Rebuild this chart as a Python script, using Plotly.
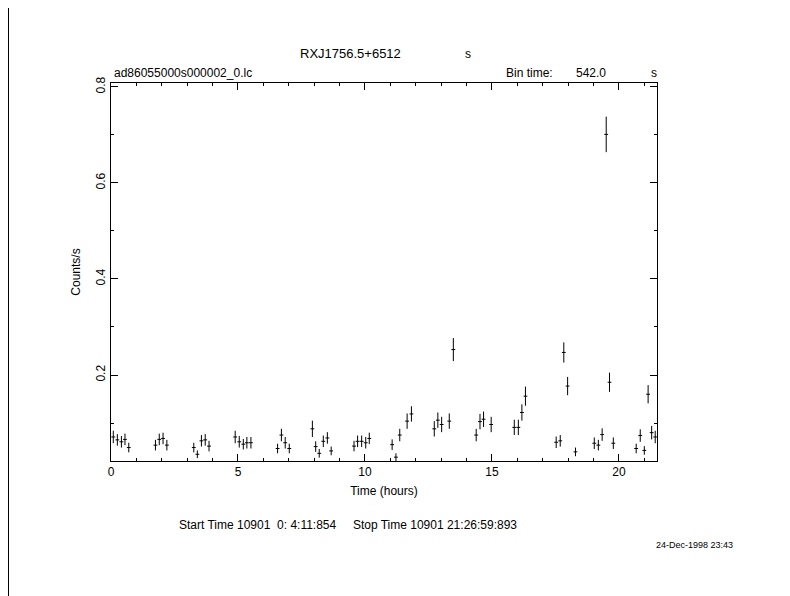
import plotly.graph_objects as go

time_hours = [0.09, 0.25, 0.41, 0.55, 0.70, 1.75, 1.90, 2.05, 2.20, 3.26, 3.40, 3.56, 3.71, 3.86,
              4.89, 5.05, 5.21, 5.35, 5.51, 6.56, 6.71, 6.86, 7.02, 7.93, 8.06, 8.20, 8.36, 8.52,
              8.67, 9.57, 9.71, 9.87, 10.03, 10.17, 11.07, 11.22, 11.37, 11.66, 11.83, 12.73,
              12.87, 13.02, 13.32, 13.48, 14.38, 14.53, 14.67, 14.97, 15.88, 16.04, 16.18, 16.32,
              17.53, 17.69, 17.83, 17.98, 18.29, 19.03, 19.19, 19.34, 19.50, 19.63, 19.78, 20.68,
              20.84, 21.00, 21.15, 21.29, 21.43]
rate = [0.071, 0.065, 0.061, 0.066, 0.049, 0.054, 0.066, 0.068, 0.054, 0.049, 0.035, 0.063, 0.065, 0.052,
        0.071, 0.061, 0.056, 0.059, 0.059, 0.047, 0.075, 0.059, 0.047, 0.088, 0.051, 0.037, 0.062, 0.069,
        0.042, 0.052, 0.062, 0.062, 0.059, 0.068, 0.055, 0.029, 0.075, 0.104, 0.119, 0.088,
        0.106, 0.097, 0.104, 0.253, 0.075, 0.103, 0.108, 0.097, 0.091, 0.091, 0.122, 0.156,
        0.060, 0.063, 0.247, 0.177, 0.040, 0.058, 0.054, 0.076, 0.701, 0.185, 0.058, 0.047,
        0.074, 0.043, 0.160, 0.080, 0.071]
rate_err = [0.013, 0.012, 0.012, 0.012, 0.010, 0.011, 0.012, 0.012, 0.011, 0.010, 0.008, 0.012, 0.012, 0.011,
            0.013, 0.012, 0.011, 0.012, 0.012, 0.010, 0.013, 0.012, 0.010, 0.017, 0.011, 0.009, 0.012, 0.012,
            0.009, 0.011, 0.012, 0.012, 0.012, 0.012, 0.011, 0.008, 0.013, 0.016, 0.016, 0.016,
            0.016, 0.016, 0.016, 0.024, 0.013, 0.016, 0.016, 0.016, 0.016, 0.016, 0.017, 0.020,
            0.012, 0.012, 0.021, 0.019, 0.009, 0.012, 0.011, 0.013, 0.037, 0.020, 0.012, 0.010,
            0.013, 0.009, 0.019, 0.014, 0.013]
half_bin = [0.075] * len(time_hours)

x_ticks = [0, 5, 10, 15, 20]
y_ticks = [0.2, 0.4, 0.6, 0.8]

title_main = "RXJ1756.5+6512"
file_name = "ad86055000s000002_0.lc"
bin_text = "Bin time:"
bin_value = "542.0"
time_text = "Start Time 10901  0: 4:11:854     Stop Time 10901 21:26:59:893"
date_text = "24-Dec-1998 23:43"

font_family = "Liberation Sans, DejaVu Sans, sans-serif"

# page offset of the figure inside the browser page (body margin)
OFF = 8
PL, PR, PT, PB = 111, 657, 83, 461  # plot box in screen pixels
PW, PH = PR - PL, PB - PT

fig = go.Figure()
fig.add_trace(go.Scatter(
    x=time_hours, y=rate, mode="markers",
    marker=dict(size=0.1, color="black"),
    error_y=dict(type="data", array=rate_err, color="black", thickness=1, width=0),
    error_x=dict(type="data", array=half_bin, color="black", thickness=1, width=0),
    showlegend=False, hoverinfo="skip",
))

axis_common = dict(
    showgrid=False, zeroline=False, showline=True, linecolor="black", linewidth=1,
    mirror="allticks", ticks="inside", tickcolor="black", tickwidth=1,
    tickfont=dict(family=font_family, size=12, color="black"),
)

fig.update_xaxes(
    range=[0, 21.5], tickvals=x_ticks, ticklen=7,
    minor=dict(dtick=1, tick0=0, ticks="inside", ticklen=3, tickcolor="black"),
    title=dict(text="Time (hours)", font=dict(family=font_family, size=12, color="black"), standoff=8),
    **axis_common,
)
fig.update_yaxes(
    range=[0.021, 0.808], tickvals=y_ticks, ticklen=7, tickangle=-90,
    minor=dict(dtick=0.1, tick0=0, ticks="inside", ticklen=3, tickcolor="black"),
    title=dict(text="Counts/s", font=dict(family=font_family, size=12, color="black"), standoff=11),
    **axis_common,
)

ann_font = dict(family=font_family, size=12, color="black")
annotations = [
    dict(text=title_main, x=350, y=54, xanchor="center", size=13),
    dict(text="s", x=468, y=54, xanchor="center", size=12),
    dict(text=file_name, x=112, y=73, xanchor="left", size=12),
    dict(text=bin_text, x=504, y=73, xanchor="left", size=12),
    dict(text=bin_value, x=608, y=73, xanchor="right", size=12),
    dict(text="s", x=654, y=73, xanchor="center", size=12),
    dict(text=time_text, x=177, y=525, xanchor="left", size=12),
    dict(text=date_text, x=694, y=545, xanchor="center", size=9),
]
for a in annotations:
    fig.add_annotation(
        text=a["text"], xref="paper", yref="paper",
        x=(a["x"] - PL) / PW, y=(PB - a["y"]) / PH,
        xanchor=a["xanchor"], yanchor="middle", showarrow=False,
        font=dict(family=font_family, size=a["size"], color="black"),
    )
edge_x = (OFF + 0.5 - PL) / PW
fig.add_shape(
    type="line", xref="paper", yref="paper",
    x0=edge_x, x1=edge_x, y0=(PB - OFF) / PH, y1=(PB - 596 - OFF) / PH,
    line=dict(color="black", width=1),
)

fig.update_layout(
    width=790, height=596, autosize=False,
    margin=dict(l=PL - OFF, r=790 - PR + OFF, t=PT - OFF, b=596 - PB + OFF),
    paper_bgcolor="white", plot_bgcolor="white",
    font=dict(family=font_family, size=12, color="black"),
)

fig.write_html("out.html")
